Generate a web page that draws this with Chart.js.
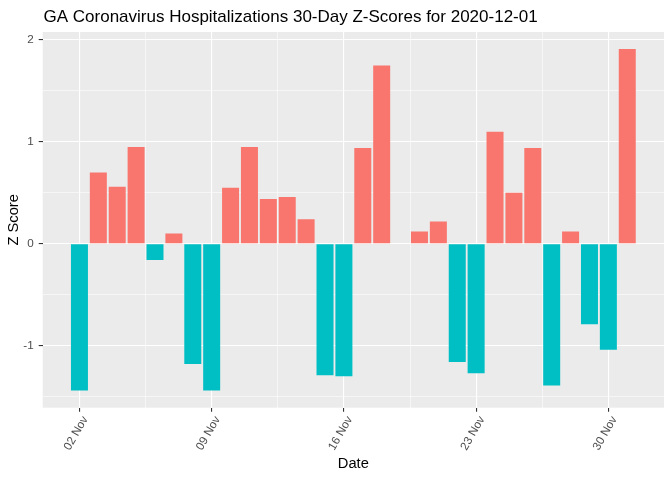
<!DOCTYPE html>
<html>
<head>
<meta charset="utf-8">
<script src="https://cdn.jsdelivr.net/npm/chart.js@4.4.1/dist/chart.umd.min.js"></script>
<style>
  html, body { margin:0; padding:0; background:#fff; }
  #wrap { width:672px; height:480px; }
</style>
</head>
<body>
<div id="wrap"><canvas id="chart"></canvas></div>
<script>
// GA hospitalizations z-scores, one bar per day (no value for 19 Nov)
const dates = [
  '2020-11-02','2020-11-03','2020-11-04','2020-11-05','2020-11-06','2020-11-07','2020-11-08',
  '2020-11-09','2020-11-10','2020-11-11','2020-11-12','2020-11-13','2020-11-14','2020-11-15',
  '2020-11-16','2020-11-17','2020-11-18','2020-11-20','2020-11-21','2020-11-22',
  '2020-11-23','2020-11-24','2020-11-25','2020-11-26','2020-11-27','2020-11-28','2020-11-29',
  '2020-11-30','2020-12-01'
];
const zScores = [
  -1.44, 0.70, 0.56, 0.95, -0.16, 0.10, -1.18,
  -1.44, 0.55, 0.95, 0.44, 0.46, 0.24, -1.29,
  -1.30, 0.94, 1.75, 0.12, 0.22, -1.16,
  -1.27, 1.10, 0.50, 0.94, -1.39, 0.12, -0.79,
  -1.04, 1.91
];
const xTickDates = ['2020-11-02','2020-11-09','2020-11-16','2020-11-23','2020-11-30'];
const xTickLabels = ['02 Nov','09 Nov','16 Nov','23 Nov','30 Nov'];
const yTicks = [-1, 0, 1, 2];

const POS = '#F8766D', NEG = '#00BFC4';
const FONT = '"Liberation Sans", Arial, sans-serif';

function dayNum(s){
  const [y,m,d] = s.split('-').map(Number);
  return (Date.UTC(y,m-1,d) - Date.UTC(2020,10,1)) / 86400000;
}

const points = dates.map((d,i)=>({x: dayNum(d), y: zScores[i]}));
const xMajor = xTickDates.map(dayNum);

// ggplot-like 5% expansion
const xs = points.map(p=>p.x);
const xLo = Math.min(...xs) - 0.45, xHi = Math.max(...xs) + 0.45;
const xMin = xLo - 0.05*(xHi-xLo), xMax = xHi + 0.05*(xHi-xLo);
const yLo = Math.min(0, ...zScores), yHi = Math.max(0, ...zScores);
const yMin = yLo - 0.05*(yHi-yLo), yMax = yHi + 0.05*(yHi-yLo);

function withMinor(major, lo, hi){
  const step = major[1]-major[0];
  const all = [];
  for(let v = major[0]-step/2; v <= major[major.length-1]+step/2+1e-9; v += step/2){
    if(v >= lo && v <= hi) all.push(+v.toFixed(4));
  }
  return all;
}
const xAll = withMinor(xMajor, xMin, xMax);
const yAll = withMinor(yTicks, yMin, yMax);

const isMajorX = v => xMajor.some(m=>Math.abs(m-v)<1e-6);
const isMajorY = v => yTicks.some(m=>Math.abs(m-v)<1e-6);
const gridW = f => c => (c.tick && f(c.tick.value)) ? 1.1 : 0.55;
const tickC = f => c => (c.tick && f(c.tick.value)) ? '#333333' : 'rgba(0,0,0,0)';

const panelBg = {
  id:'panelBg',
  beforeDraw(chart){
    const {ctx, chartArea:a} = chart;
    ctx.save();
    ctx.fillStyle = '#EBEBEB';
    ctx.fillRect(a.left, a.top, a.right-a.left, a.bottom-a.top);
    ctx.restore();
  },
  afterDraw(chart){
    const ctx = chart.ctx;
    ctx.save();
    ctx.fillStyle = '#000';
    ctx.font = '17px ' + FONT;
    ctx.textBaseline = 'alphabetic';
    ctx.textAlign = 'left';
    ctx.fillText('GA Coronavirus Hospitalizations 30-Day Z-Scores for 2020-12-01', 43.5, 22);
    ctx.restore();
  }
};

new Chart(document.getElementById('chart'), {
  type:'bar',
  data:{
    datasets:[{
      data: points,
      backgroundColor: points.map(p=>p.y>=0?POS:NEG),
      borderWidth:0,
      barPercentage:0.9,
      categoryPercentage:1.0
    }]
  },
  options:{
    responsive:true,
    maintainAspectRatio:false,
    animation:false,
    layout:{padding:{top:32, right:8, left:0, bottom:0}},
    plugins:{legend:{display:false}, tooltip:{enabled:false}},
    scales:{
      x:{
        type:'linear',
        min:xMin, max:xMax,
        offset:false,
        afterBuildTicks(s){ s.ticks = xAll.map(v=>({value:v})); },
        afterFit(s){ s.height = 72.3; },
        border:{display:false},
        grid:{
          offset:false,
          color:'#FFFFFF',
          lineWidth: gridW(isMajorX),
          tickLength:4,
          tickColor: tickC(isMajorX),
          tickWidth:1.1
        },
        ticks:{
          autoSkip:false,
          minRotation:60, maxRotation:60,
          padding:2,
          labelOffset:6,
          color:'#4D4D4D',
          font:{family:FONT, size:11.7},
          callback(v){
            const i = xMajor.findIndex(m=>Math.abs(m-v)<1e-6);
            return i>=0 ? xTickLabels[i] : '';
          }
        },
        title:{display:true, text:'Date', color:'#000', font:{family:FONT, size:14.7}, padding:{top:0, bottom:7}}
      },
      y:{
        min:yMin, max:yMax,
        afterBuildTicks(s){ s.ticks = yAll.map(v=>({value:v})); },
        afterFit(s){ s.width = 42.7; },
        border:{display:false},
        grid:{
          color:'#FFFFFF',
          lineWidth: gridW(isMajorY),
          tickLength:4,
          tickColor: tickC(isMajorY),
          tickWidth:1.1
        },
        ticks:{
          autoSkip:false,
          padding:5,
          color:'#4D4D4D',
          font:{family:FONT, size:11.7},
          callback(v){ return isMajorY(v) ? String(v) : ''; }
        },
        title:{display:true, text:'Z Score', color:'#000', font:{family:FONT, size:14.7}, padding:{top:5, bottom:0}}
      }
    }
  },
  plugins:[panelBg]
});
</script>
</body>
</html>
